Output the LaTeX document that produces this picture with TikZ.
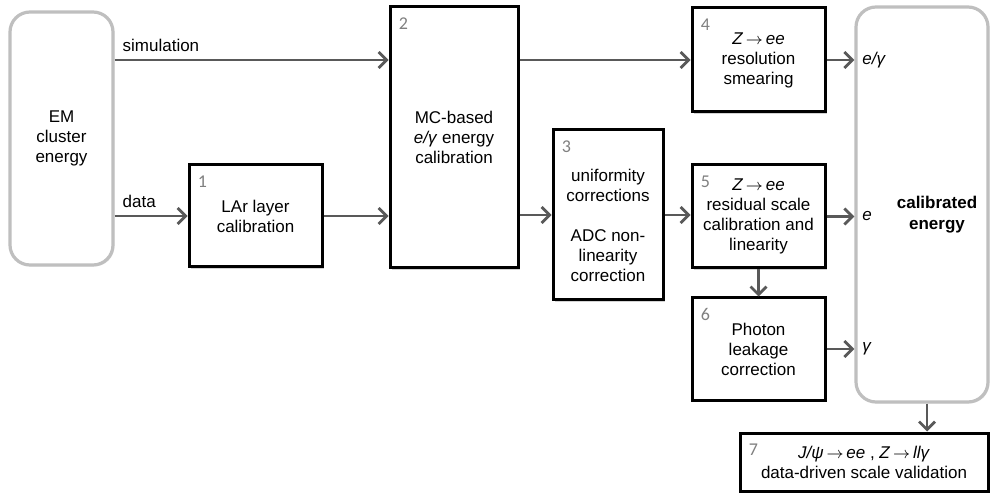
\documentclass[tikz,border=0pt]{standalone}
\usepackage{fontspec}
\setmainfont{Liberation Sans}
\newfontfamily\numfont{Carlito}
\usetikzlibrary{arrows.meta,shadows}
\definecolor{arrowgray}{HTML}{595959}
\definecolor{framegray}{HTML}{BFBFBF}
\definecolor{numgray}{HTML}{808080}
\newcommand{\goesto}{\,$\rightarrow$\,}

\begin{document}
\begin{tikzpicture}[x=0.5pt, y=0.5pt,
        font=\fontsize{8.5}{10}\selectfont,
        box/.style={draw=black, line width=1.5pt, fill=white, align=center, inner sep=0pt,
            drop shadow={shadow xshift=0.9pt, shadow yshift=-0.9pt, opacity=0.35}},
        endbox/.style={draw=framegray, line width=1.6pt, fill=white, align=center, rounded corners=10pt,
            drop shadow={shadow xshift=0.7pt, shadow yshift=-0.7pt, opacity=0.2}},
        num/.style={font=\numfont\fontsize{9}{10}\selectfont, text=numgray, inner sep=0pt},
        flow/.style={draw=arrowgray, line width=1.4pt, -{Straight Barb[length=4pt, width=8pt]}}]
        \useasboundingbox (0,0) rectangle (990,493);

        \node[endbox, minimum width=51.5pt, minimum height=126.5pt] (em) at (61.5,354.5) {EM\\cluster\\energy};
        \node[box, minimum width=66.5pt, minimum height=51pt] (b1) at (255.5,277) {LAr layer\\calibration};
        \node[box, minimum width=64pt, minimum height=130.5pt] (b2) at (454,355.5) {MC-based\\\textit{e/γ} energy\\calibration};
        \node[box, minimum width=55pt, minimum height=85pt] (b3) at (608,278) {\strut\\uniformity\\corrections\\[10pt]ADC non-\\linearity\\correction};
        \node[box, minimum width=66.5pt, minimum height=52pt] (b4) at (758.5,433) {\textit{Z}\goesto\textit{ee}\\resolution\\smearing};
        \node[box, minimum width=66.5pt, minimum height=51.5pt] (b5) at (758.5,276.5) {\textit{Z}\goesto\textit{ee}\\residual scale\\calibration and\\linearity};
        \node[box, minimum width=66.5pt, minimum height=51pt] (b6) at (758.5,144) {Photon\\leakage\\correction};
        \node[box, minimum width=124pt, minimum height=29pt] (b7) at (864,31) {\textit{J/ψ}\goesto\textit{ee} , \textit{Z}\goesto\textit{llγ}\\data-driven scale validation};
        \node[endbox, minimum width=66pt, minimum height=197.5pt] (cal) at (922,288.5) {};
        \node[font=\bfseries\fontsize{8.5}{10.5}\selectfont, align=center] (calt) at (937,278) {calibrated\\energy};

        \foreach \n in {1,...,7}
            \node[num] (n\n) at ([shift={(15,-18)}]b\n.north west) {\n};

        \draw[flow] (em.east |- b4.west) -- node[above right, pos=0] (sim) {simulation} (b2.west |- b4.west);
        \draw[flow] (em.east |- b1.west) -- node[above right, pos=0] (dat) {data} (b1.west);
        \draw[flow] (b1.east) -- (b1.east -| b2.west);
        \draw[flow] (b2.east |- b4.west) -- (b4.west);
        \draw[flow] (b2.east |- b3.west) -- (b3.west);
        \draw[flow] (b3.east) -- (b3.east -| b5.west);
        \draw[flow] (b4.east) -- (b4.east -| cal.west) node[right] (eg) {\textit{e/γ}};
        \draw[flow] (b5.east) -- (b5.east -| cal.west) node[right] (el) {\textit{e}};
        \draw[flow] (b6.east) -- (b6.east -| cal.west) node[right] (ph) {\textit{γ}};
        \draw[flow] (b5) -- (b6);
        \draw[flow] ([xshift=2.5pt]cal.south) -- ([xshift=2.5pt]cal.south |- b7.north);
    \end{tikzpicture}
\end{document}
